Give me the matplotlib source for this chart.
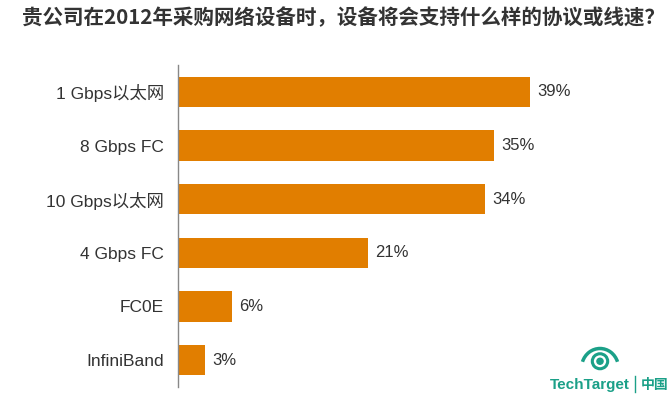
import matplotlib.pyplot as plt
from matplotlib.patches import Arc, Circle

plt.rcParams['font.family'] = ['Liberation Sans', 'Noto Sans CJK SC', 'DejaVu Sans']

# data
title = '贵公司在2012年采购网络设备时，设备将会支持什么样的协议或线速？'
labels = ['1 Gbps以太网', '8 Gbps FC', '10 Gbps以太网', '4 Gbps FC', 'FC0E', 'InfiniBand']
values = [39, 35, 34, 21, 6, 3]

bar_color = '#E17E00'
text_color = '#333333'
logo_color = '#1BA088'

fig = plt.figure(figsize=(6.7, 4), dpi=100)
ax = fig.add_axes([178 / 670, 13 / 400, 422 / 670, 322 / 400])

pos = list(range(len(labels)))
ax.barh(pos, values, height=0.56, color=bar_color)
ax.set_ylim(len(labels) - 0.5, -0.5)
ax.set_xlim(0, 46.75)

for p, v in zip(pos, values):
    ax.text(v + 0.8, p, f'{v}%', va='center', ha='left', fontsize=12, color=text_color)

ax.set_yticks(pos)
ax.set_yticklabels(labels, fontsize=12.5, color=text_color)
ax.tick_params(axis='y', length=0, pad=10)
ax.set_xticks([])
for s in ['top', 'right', 'bottom']:
    ax.spines[s].set_visible(False)
ax.spines['left'].set_color('#888888')
ax.spines['left'].set_linewidth(1)

fig.text(0.512, 0.956, title, ha='center', va='center', fontsize=14.8,
         fontweight='bold', color=text_color, family=['Noto Sans CJK SC', 'DejaVu Sans'])

# TechTarget logo
fig.text(590 / 670, 15 / 400, 'TechTarget', ha='center', va='center', fontsize=11,
         fontweight='bold', color=logo_color)
fig.text(655 / 670, 15 / 400, '中国', ha='center', va='center', fontsize=10,
         fontweight='bold', color=logo_color, family=['Noto Sans CJK SC'])
fig.add_artist(plt.Line2D([635 / 670, 635 / 670], [8 / 400, 24 / 400], color=logo_color, lw=1))
lax = fig.add_axes([580 / 670, 26 / 400, 40 / 670, 30 / 400])
lax.set_xlim(-1.3, 1.3)
lax.set_ylim(-1.0, 1.0)
lax.axis('off')
lax.add_patch(Arc((0, -0.6), 2.4, 2.6, theta1=20, theta2=160, color=logo_color, lw=2.5))
lax.add_patch(Circle((0, -0.15), 0.5, fill=False, ec=logo_color, lw=2.2))
lax.add_patch(Circle((0, -0.15), 0.2, color=logo_color))

fig.savefig('out.png', dpi=100)
